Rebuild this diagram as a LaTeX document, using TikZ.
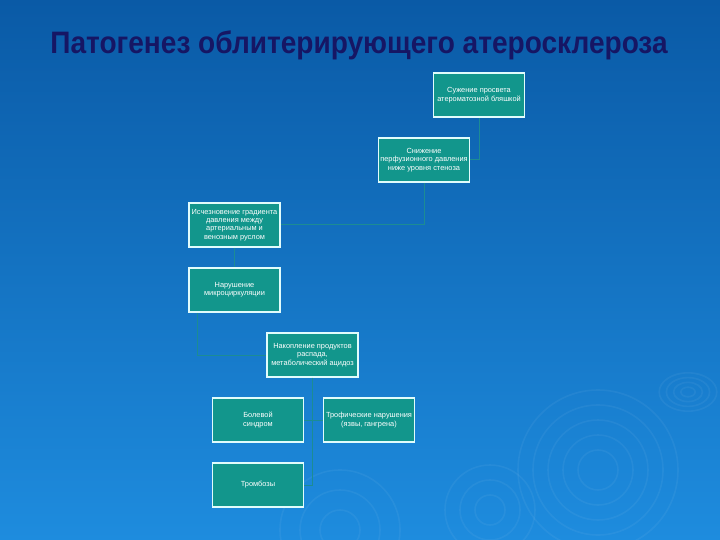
\documentclass[tikz,border=0pt]{standalone}
\usepackage{fontspec}
\setmainfont{Liberation Sans}
\definecolor{bgtop}{RGB}{10,90,166}
\definecolor{bgbot}{RGB}{30,140,222}
\definecolor{boxfill}{RGB}{18,150,140}
\definecolor{boxline}{RGB}{225,252,252}
\definecolor{conn}{RGB}{28,140,148}
\definecolor{titlecol}{RGB}{22,22,100}
\tikzset{
  stepbox/.style={rectangle, draw=boxline, line width=1.8pt, fill=boxfill,
    minimum width=91pt, minimum height=44pt, inner sep=0.5pt, align=center,
    text=white, font=\fontsize{7.4}{8.4}\selectfont},
  link/.style={draw=conn, line width=1pt},
  ripple/.style={draw=white, opacity=0.05, line width=1.6pt}
}
\begin{document}
\begin{tikzpicture}[x=1pt,y=1pt]
\useasboundingbox (0,0) rectangle (720,-540);
\shade[top color=bgtop, bottom color=bgbot] (0,0) rectangle (720,-540);
% ripples
\foreach \r in {20,35,50,65,80} {\draw[ripple] (598,-470) circle (\r);}
\foreach \r in {6,12,18,24} {\draw[ripple] (688,-392) ellipse ({\r*1.2} and \r*0.8);}
\foreach \r in {15,30,45} {\draw[ripple] (490,-510) circle (\r);}
\foreach \r in {20,40,60} {\draw[ripple] (340,-530) circle (\r);}
% title
\node[text=titlecol, font=\fontsize{31}{33}\bfseries\selectfont, xscale=0.905] (title) at (359,-45) {Патогенез облитерирующего атеросклероза};
% box positions
\coordinate (p1) at (479,-95);
\coordinate (p2) at (424,-160);
\coordinate (p3) at (234.5,-225);
\coordinate (p4) at (234.5,-290);
\coordinate (p5) at (312.5,-355);
\coordinate (p6) at (258,-420);
\coordinate (p7) at (369,-420);
\coordinate (p8) at (258,-485);
% boxes
\node[stepbox] (b1) at (p1) {Сужение просвета\\атероматозной бляшкой};
\node[stepbox] (b2) at (p2) {Снижение\\перфузионного давления\\ниже уровня стеноза};
\node[stepbox] (b3) at (p3) {Исчезновение градиента\\давления между\\артериальным и\\венозным руслом};
\node[stepbox] (b4) at (p4) {Нарушение\\микроциркуляции};
\node[stepbox] (b5) at (p5) {Накопление продуктов\\распада,\\метаболический ацидоз};
\node[stepbox] (b6) at (p6) {Болевой\\синдром};
\node[stepbox] (b7) at (p7) {Трофические нарушения\\(язвы, гангрена)};
\node[stepbox] (b8) at (p8) {Тромбозы};
\coordinate (c4) at ([xshift=9pt]b4.south west);
% connectors
\draw[link] (b1.south) |- (b2.east);
\draw[link] (b2.south) |- (b3.east);
\draw[link] (b3.south) -- (b4.north);
\draw[link] (c4) |- (b5.west);
\draw[link] (b5.south) |- (b6.east);
\draw[link] (b5.south) |- (b7.west);
\draw[link] (b5.south) |- (b8.east);
\end{tikzpicture}
\end{document}
